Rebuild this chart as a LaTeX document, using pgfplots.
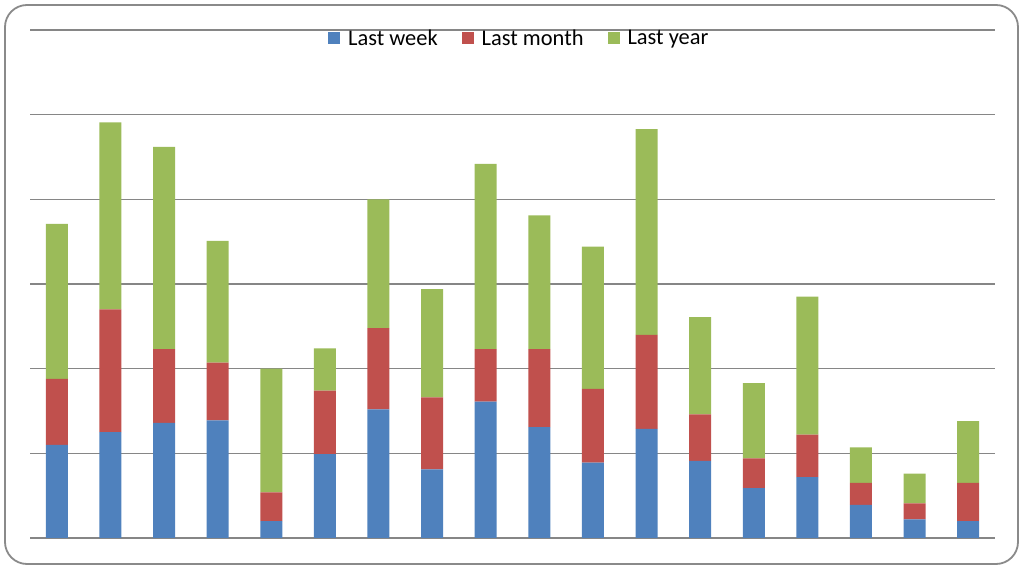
\documentclass[border=0pt]{standalone}
\usepackage{pgfplots}
\pgfplotsset{compat=1.18}
\usepackage{fontspec}
\setmainfont{Carlito}
\definecolor{cblue}{HTML}{4F81BD}
\definecolor{cred}{HTML}{C0504D}
\definecolor{cgreen}{HTML}{9BBB59}
\definecolor{cgrid}{HTML}{868686}
\definecolor{cborder}{HTML}{8A8A8A}
\pgfplotstableread{
x week month year
0 1.10 0.78 1.83
1 1.25 1.45 2.21
2 1.36 0.87 2.39
3 1.39 0.68 1.44
4 0.20 0.34 1.46
5 0.99 0.75 0.50
6 1.52 0.96 1.52
7 0.81 0.85 1.28
8 1.61 0.62 2.19
9 1.31 0.92 1.58
10 0.89 0.87 1.68
11 1.29 1.11 2.43
12 0.91 0.55 1.15
13 0.59 0.35 0.89
14 0.72 0.50 1.63
15 0.39 0.26 0.42
16 0.22 0.19 0.35
17 0.20 0.45 0.73
}\datatable
\begin{document}
\begin{tikzpicture}
\path[use as bounding box] (0bp,0bp) rectangle (1024bp,569bp);
\draw[cborder, line width=1.8bp, rounded corners=22bp] (5bp,5bp) rectangle (1018bp,564bp);
\begin{axis}[
  at={(30bp,31bp)}, anchor=south west,
  scale only axis, width=965bp, height=508bp,
  ybar stacked, bar width=22bp,
  xmin=-0.5, xmax=17.5, ymin=0, ymax=6,
  ytick={0,1,2,3,4,5,6}, yticklabels={}, xtick={0}, xticklabels={},
  ymajorgrids, grid style={cgrid, line width=1.4bp},
  axis line style={draw=none}, major tick style={draw=none},
  legend columns=3,
  legend style={at={(0.4956,0.984)}, anchor=center, draw=none, fill=none,
    font=\fontsize{22.5}{24}\selectfont},
  legend image code/.code={\path (-22bp,0bp); \fill[#1] (0bp,-6bp) rectangle (12bp,6bp); \path (18bp,0bp);},
]
\addplot[fill=cblue, draw=none] table[x=x,y=week] {\datatable};
\addplot[fill=cred, draw=none] table[x=x,y=month] {\datatable};
\addplot[fill=cgreen, draw=none] table[x=x,y=year] {\datatable};
\legend{Last week, Last month, Last year}
\end{axis}
\end{tikzpicture}
\end{document}
